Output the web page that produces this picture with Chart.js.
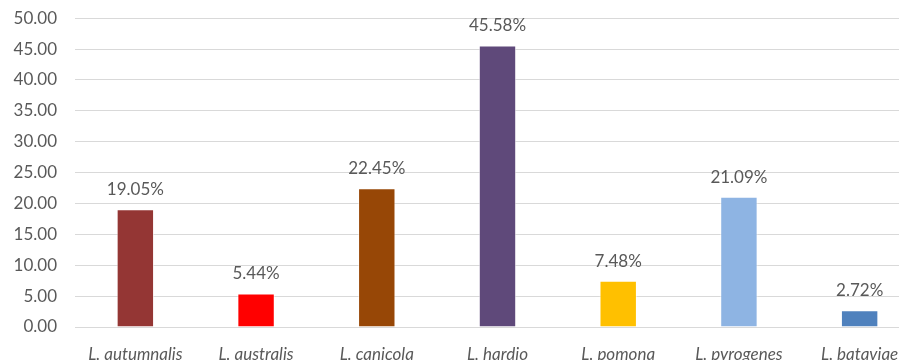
<!DOCTYPE html>
<html>
<head>
<meta charset="utf-8">
<script src="https://cdn.jsdelivr.net/npm/chart.js@4.4.1/dist/chart.umd.min.js"></script>
<style>
  html, body { margin: 0; padding: 0; background: #fff; overflow: hidden; }
  #wrap { width: 899px; height: 360px; overflow: hidden; position: relative; }
  #box { width: 920px; height: 382px; position: absolute; left: 0; top: -10px; }
</style>
</head>
<body>
<div id="wrap"><div id="box"><canvas id="serovarChart"></canvas></div></div>
<script>
// Serovar shares (%)
const serovars = ['L. autumnalis', 'L. australis', 'L. canicola', 'L. hardjo', 'L. pomona', 'L. pyrogenes', 'L. bataviae'];
const shares = [19.05, 5.44, 22.45, 45.58, 7.48, 21.09, 2.72];
const barColors = ['#943634', '#ff0000', '#974706', '#5f497a', '#ffc000', '#8eb4e3', '#4f81bd'];
const yTicks = [0, 5, 10, 15, 20, 25, 30, 35, 40, 45, 50];

const FONT = 'Lato, "Open Sans", sans-serif';

// value labels above each bar
const valueLabels = {
  id: 'valueLabels',
  afterDatasetsDraw(chart) {
    const ctx = chart.ctx;
    const meta = chart.getDatasetMeta(0);
    ctx.save();
    ctx.font = '17px ' + FONT;
    ctx.fillStyle = '#595959';
    ctx.textAlign = 'center';
    ctx.textBaseline = 'alphabetic';
    meta.data.forEach((bar, i) => {
      ctx.fillText(shares[i].toFixed(2) + '%', bar.x, bar.y - 14);
    });
    ctx.restore();
  }
};

new Chart(document.getElementById('serovarChart'), {
  type: 'bar',
  data: {
    labels: serovars,
    datasets: [{
      data: shares,
      backgroundColor: barColors,
      borderColor: 'rgba(255,255,255,0.6)',
      borderWidth: 1,
      barPercentage: 0.31,
      categoryPercentage: 1.0
    }]
  },
  options: {
    responsive: true,
    maintainAspectRatio: false,
    animation: false,
    layout: { padding: { top: 7, left: 0, right: 0, bottom: 0 } },
    plugins: { legend: { display: false }, tooltip: { enabled: false } },
    scales: {
      y: {
        min: 0,
        max: 50,
        afterBuildTicks(axis) { axis.ticks = yTicks.map(v => ({ value: v })); },
        afterFit(axis) { axis.width = 75; },
        grid: { color: '#d9d9d9', drawTicks: false, lineWidth: 1 },
        border: { display: false },
        ticks: {
          padding: 18,
          color: '#595959',
          font: { family: FONT, size: 17 },
          callback: v => v.toFixed(2)
        }
      },
      x: {
        afterFit(axis) { axis.height = 45; },
        grid: { display: false },
        border: { color: '#d9d9d9' },
        ticks: {
          padding: 9,
          color: '#595959',
          maxRotation: 0,
          autoSkip: false,
          font: { family: FONT, size: 17, style: 'italic' }
        }
      }
    }
  },
  plugins: [valueLabels]
});
</script>
</body>
</html>
